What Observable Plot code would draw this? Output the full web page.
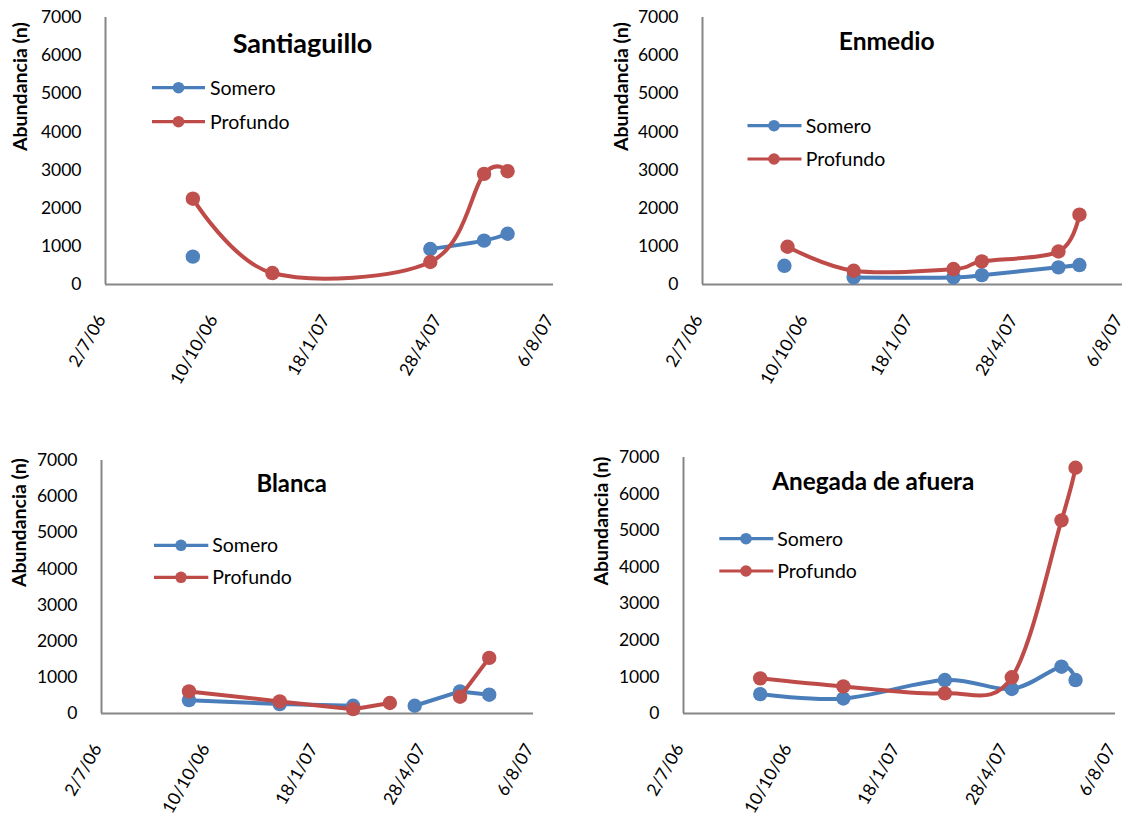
<!DOCTYPE html>
<html>
<head>
<meta charset="utf-8">
<script src="https://cdn.jsdelivr.net/npm/d3@7"></script>
<script src="https://cdn.jsdelivr.net/npm/@observablehq/plot@0.6"></script>
<style>
  body { margin: 0; background: #fff; }
  #page { position: relative; width: 1128px; height: 819px; overflow: hidden; font-family: Lato, "Open Sans", sans-serif; }
  .panel { position: absolute; }
  .panel svg { overflow: visible; }
  #overlay { position: absolute; left: 0; top: 0; pointer-events: none; }
</style>
</head>
<body>
<div id="page"></div>
<script>
// Abundance (n) per sampling date, shallow (Somero) and deep (Profundo) stations.
// null = no sample for that depth on that date.
const santiaguilloDates    = ["2006-09-18", "2006-11-28", "2007-04-18", "2007-06-05", "2007-06-26"];
const santiaguilloSomero   = [730, null, 930, 1150, 1330];
const santiaguilloProfundo = [2250, 300, 590, 2900, 2970];

const enmedioDates    = ["2006-09-18", "2006-09-21", "2006-11-23", "2007-02-26", "2007-03-25", "2007-06-06", "2007-06-26"];
const enmedioSomero   = [490, null, 185, 185, 245, 450, 510];
const enmedioProfundo = [null, 990, 360, 405, 605, 865, 1830];

const blancaDates    = ["2006-09-21", "2006-12-14", "2007-02-20", "2007-03-26", "2007-04-18", "2007-05-30", "2007-06-26"];
const blancaSomero   = [370, 260, 215, null, 215, 610, 520];
const blancaProfundo = [610, 335, 120, 290, null, 465, 1540];

const anegadaDates    = ["2006-09-11", "2006-11-27", "2007-03-01", "2007-05-02", "2007-06-17", "2007-06-30"];
const anegadaSomero   = [530, 410, 915, 670, 1280, 915];
const anegadaProfundo = [960, 740, 550, 990, 5280, 6720];

const siteNames   = ["Santiaguillo", "Enmedio", "Blanca", "Anegada de afuera"];
const seriesNames = ["Somero", "Profundo"];
const yAxisTitle  = "Abundancia (n)";

const xTickDates  = ["2006-07-02", "2006-10-10", "2007-01-18", "2007-04-28", "2007-08-06"];
const xTickLabels = ["2/7/06", "10/10/06", "18/1/07", "28/4/07", "6/8/07"];
const yTicks      = [0, 1000, 2000, 3000, 4000, 5000, 6000, 7000];

// ---- styling ----
const FONT = "Lato, 'Open Sans', sans-serif";
const AXIS_GREY = "#868686";
const lineColor = {Somero: "#4A7EBB", Profundo: "#BE4B48"};
const dotColor  = {Somero: "#4F81BD", Profundo: "#C0504D"};

const parse = s => new Date(s + "T00:00:00Z");
const tickDates = xTickDates.map(parse);
const tickLabelOf = new Map(tickDates.map((d, i) => [+d, xTickLabels[i]]));
const xDomain = [tickDates[0], tickDates[tickDates.length - 1]];

// panel geometry: svg box [left, top, width, height], margins [top, right, bottom, left]
const panels = [
  {site: siteNames[0], dates: santiaguilloDates, somero: santiaguilloSomero, profundo: santiaguilloProfundo,
   box: [0, 0, 560, 420], margin: [17, 7, 136, 105], curve: "cardinal",
   title: {x: 302.5, y: 52.5, size: 27}, legend: {x0: 152, x1: 205, cx: 178.5, y: [87.7, 121.7], tx: 210},
   yTitleDx: -85},
  {site: siteNames[1], dates: enmedioDates, somero: enmedioSomero, profundo: enmedioProfundo,
   box: [560, 0, 568, 420], margin: [17, 6, 136, 142], curve: "cardinal",
   title: {x: 886.7, y: 49.5, size: 24.6}, legend: {x0: 747.5, x1: 801.5, cx: 774, y: [125.7, 159], tx: 805.7},
   yTitleDx: -81},
  {site: siteNames[2], dates: blancaDates, somero: blancaSomero, profundo: blancaProfundo,
   box: [0, 440, 560, 379], margin: [20, 27, 106, 101], curve: "linear",
   title: {x: 291.7, y: 492.3, size: 23.8}, legend: {x0: 154, x1: 208.3, cx: 181, y: [545.3, 577.3], tx: 212.3},
   yTitleDx: -82},
  {site: siteNames[3], dates: anegadaDates, somero: anegadaSomero, profundo: anegadaProfundo,
   box: [560, 440, 568, 379], margin: [17, 13, 106, 123], curve: "cardinal",
   title: {x: 873.3, y: 490, size: 24.3}, legend: {x0: 719.3, x1: 773.3, cx: 746, y: [538.7, 571], tx: 777.3},
   yTitleDx: -82}
];

const page = document.getElementById("page");

function seriesRows(dates, values) {
  return dates.map((d, i) => ({date: parse(d), value: values[i]}));
}

for (const p of panels) {
  const [left, top, width, height] = p.box;
  const [mt, mr, mb, ml] = p.margin;
  const rows = {Somero: seriesRows(p.dates, p.somero), Profundo: seriesRows(p.dates, p.profundo)};

  const seriesMarks = seriesNames.flatMap(name => [
    Plot.line(rows[name], {x: "date", y: "value", stroke: lineColor[name], strokeWidth: 4, curve: p.curve}),
    Plot.dot(rows[name], {x: "date", y: "value", r: 7.2, fill: dotColor[name]})
  ]);

  const chart = Plot.plot({
    width, height,
    marginTop: mt, marginRight: mr, marginBottom: mb, marginLeft: ml,
    style: {fontFamily: FONT, fontSize: "17.5px", color: "#000", background: "transparent"},
    x: {type: "utc", domain: xDomain, label: null},
    y: {domain: [0, 7000], label: null},
    marks: [
      Plot.axisY({ticks: yTicks, tickSize: 0, tickPadding: 24, tickFormat: d => String(d),
                  fontSize: 17.5, label: null}),
      Plot.axisX({ticks: tickDates, tickSize: 0, tickPadding: 32, tickRotate: -60,
                  textAnchor: "end", lineAnchor: "middle", dx: -4,
                  tickFormat: d => tickLabelOf.get(+d), fontSize: 17.5, label: null}),
      Plot.ruleX([xDomain[0]], {stroke: AXIS_GREY, strokeWidth: 2}),
      Plot.ruleY([0], {stroke: AXIS_GREY, strokeWidth: 2}),
      Plot.text([yAxisTitle], {frameAnchor: "left", rotate: -90, dx: p.yTitleDx,
                               fontWeight: "bold", fontSize: 19.5, text: d => d}),
      ...seriesMarks
    ]
  });

  const holder = document.createElement("div");
  holder.className = "panel";
  holder.style.left = left + "px";
  holder.style.top = top + "px";
  holder.appendChild(chart);
  page.appendChild(holder);
}

// titles and legends drawn on top of the four panels
const overlay = d3.create("svg")
  .attr("id", "overlay")
  .attr("width", 1128)
  .attr("height", 819)
  .style("font-family", FONT);

for (const p of panels) {
  overlay.append("text")
    .attr("x", p.title.x)
    .attr("y", p.title.y)
    .attr("text-anchor", "middle")
    .attr("font-weight", "bold")
    .attr("font-size", p.title.size)
    .attr("fill", "#000")
    .text(p.site);

  seriesNames.forEach((name, i) => {
    const y = p.legend.y[i];
    const g = overlay.append("g");
    g.append("line")
      .attr("x1", p.legend.x0).attr("x2", p.legend.x1)
      .attr("y1", y).attr("y2", y)
      .attr("stroke", lineColor[name]).attr("stroke-width", 3.2);
    g.append("circle")
      .attr("cx", p.legend.cx).attr("cy", y).attr("r", 5.8)
      .attr("fill", dotColor[name]);
    g.append("text")
      .attr("x", p.legend.tx).attr("y", y)
      .attr("dy", "0.35em")
      .attr("font-size", 19.5)
      .attr("fill", "#000")
      .text(name);
  });
}

page.appendChild(overlay.node());
</script>
</body>
</html>
